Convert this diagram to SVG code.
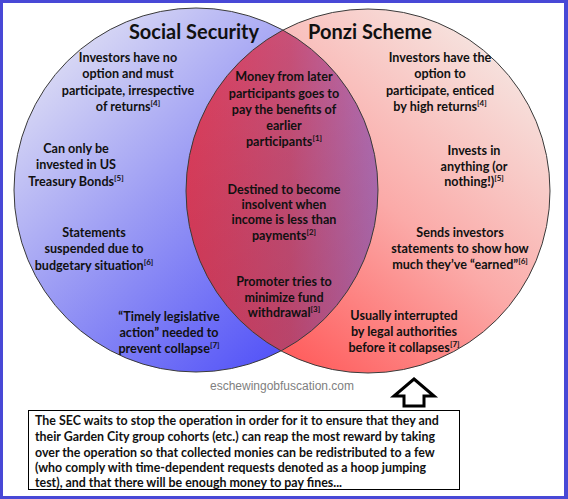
<svg xmlns="http://www.w3.org/2000/svg" width="568" height="499" viewBox="0 0 568 499">
<style>
.t{font-family:Lato,"Liberation Sans",sans-serif;font-weight:bold;font-size:12.6px;fill:#111;text-anchor:middle}
.h{font-family:Lato,"Liberation Sans",sans-serif;font-weight:bold;font-size:20px;fill:#111;text-anchor:middle}
.s{font-size:8px}
.b{font-family:Lato,"Liberation Sans",sans-serif;font-weight:bold;font-size:12.4px;fill:#111}
.c{stroke:#3a3a3a;stroke-width:1;fill:none}
</style>
<defs>
<linearGradient id="gl" x1="0.05" y1="0.15" x2="0.8" y2="0.95">
<stop offset="0" stop-color="#dedef4"/><stop offset="0.45" stop-color="#9c9cf4"/><stop offset="1" stop-color="#4e4ef8"/>
</linearGradient>
<linearGradient id="gr" x1="0.95" y1="0.2" x2="0.3" y2="1">
<stop offset="0" stop-color="#f6e2de"/><stop offset="0.5" stop-color="#fbaaa8"/><stop offset="1" stop-color="#ff5a5a"/>
</linearGradient>
<linearGradient id="gm" x1="180" y1="0" x2="380" y2="0" gradientUnits="userSpaceOnUse">
<stop offset="0" stop-color="#e23e5c"/><stop offset="0.55" stop-color="#c85078"/><stop offset="1" stop-color="#b070b8"/>
</linearGradient>
<linearGradient id="gv" x1="0" y1="30" x2="0" y2="350" gradientUnits="userSpaceOnUse">
<stop offset="0" stop-color="#000" stop-opacity="0"/><stop offset="1" stop-color="#600020" stop-opacity="0.15"/>
</linearGradient>
<clipPath id="cl"><circle cx="196" cy="190" r="182"/></clipPath>
</defs>
<rect x="0" y="0" width="568" height="499" fill="#4848d6"/>
<rect x="3" y="3" width="561" height="493" fill="#fff"/>
<g id="social-security">
<circle cx="196" cy="190" r="182" fill="url(#gl)"/>
</g>
<g id="ponzi-scheme">
<circle cx="368" cy="191" r="182" fill="url(#gr)"/>
</g>
<g id="overlap" clip-path="url(#cl)">
<circle cx="368" cy="191" r="182" fill="url(#gm)"/>
<circle cx="368" cy="191" r="182" fill="url(#gv)"/>
</g>
<g id="outlines">
<circle class="c" cx="196" cy="190" r="182"/>
<circle class="c" cx="368" cy="191" r="182"/>
</g>
<g id="titles">
<text class="h" x="194" y="39">Social Security</text>
<text class="h" x="370" y="39">Ponzi Scheme</text>
</g>
<g id="left-texts">
<text class="t" x="128" y="62">Investors have no</text>
<text class="t" x="128" y="78">option and must</text>
<text class="t" x="128" y="95">participate, irrespective</text>
<text class="t" x="128" y="111">of returns<tspan class="s" dy="-5">[4]</tspan></text>
<text class="t" x="76" y="153">Can only be</text>
<text class="t" x="76" y="169">invested in US</text>
<text class="t" x="76" y="186">Treasury Bonds<tspan class="s" dy="-5">[5]</tspan></text>
<text class="t" x="94" y="237">Statements</text>
<text class="t" x="94" y="253">suspended due to</text>
<text class="t" x="94" y="270">budgetary situation<tspan class="s" dy="-5">[6]</tspan></text>
<text class="t" x="169" y="321">“Timely legislative</text>
<text class="t" x="169" y="337">action” needed to</text>
<text class="t" x="169" y="353">prevent collapse<tspan class="s" dy="-5">[7]</tspan></text>
</g>
<g id="middle-texts">
<text class="t" x="284" y="81">Money from later</text>
<text class="t" x="284" y="98">participants goes to</text>
<text class="t" x="284" y="114">pay the benefits of</text>
<text class="t" x="284" y="130">earlier</text>
<text class="t" x="284" y="146">participants<tspan class="s" dy="-5">[1]</tspan></text>
<text class="t" x="284" y="194">Destined to become</text>
<text class="t" x="284" y="209">insolvent when</text>
<text class="t" x="284" y="224">income is less than</text>
<text class="t" x="284" y="240">payments<tspan class="s" dy="-5">[2]</tspan></text>
<text class="t" x="284" y="286">Promoter tries to</text>
<text class="t" x="284" y="302">minimize fund</text>
<text class="t" x="284" y="317">withdrawal<tspan class="s" dy="-5">[3]</tspan></text>
</g>
<g id="right-texts">
<text class="t" x="440" y="62">Investors have the</text>
<text class="t" x="440" y="78">option to</text>
<text class="t" x="440" y="95">participate, enticed</text>
<text class="t" x="440" y="111">by high returns<tspan class="s" dy="-5">[4]</tspan></text>
<text class="t" x="474" y="155">Invests in</text>
<text class="t" x="474" y="171">anything (or</text>
<text class="t" x="474" y="186">nothing!)<tspan class="s" dy="-5">[5]</tspan></text>
<text class="t" x="460" y="237">Sends investors</text>
<text class="t" x="460" y="253">statements to show how</text>
<text class="t" x="460" y="269">much they’ve “earned”<tspan class="s" dy="-5">[6]</tspan></text>
<text class="t" x="404" y="320">Usually interrupted</text>
<text class="t" x="404" y="336">by legal authorities</text>
<text class="t" x="404" y="352">before it collapses<tspan class="s" dy="-5">[7]</tspan></text>
</g>
<text x="282" y="390" font-family="Liberation Sans,Arial,sans-serif" font-size="12" fill="#808080" text-anchor="middle">eschewingobfuscation.com</text>
<g id="arrow">
<polygon points="414,379 434,396 424,396 424,406 404,406 404,396 394,396" fill="#fff" stroke="#000" stroke-width="3" stroke-linejoin="miter"/>
</g>
<g id="note">
<rect x="28.5" y="410.5" width="431" height="79" fill="#fff" stroke="#000" stroke-width="1"/>
<text class="b" x="35" y="425">The SEC waits to stop the operation in order for it to ensure that they and</text>
<text class="b" x="35" y="441">their Garden City group cohorts (etc.) can reap the most reward by taking</text>
<text class="b" x="35" y="457">over the operation so that collected monies can be redistributed to a few</text>
<text class="b" x="35" y="472">(who comply with time-dependent requests denoted as a hoop jumping</text>
<text class="b" x="35" y="487">test), and that there will be enough money to pay fines...</text>
</g>
</svg>
